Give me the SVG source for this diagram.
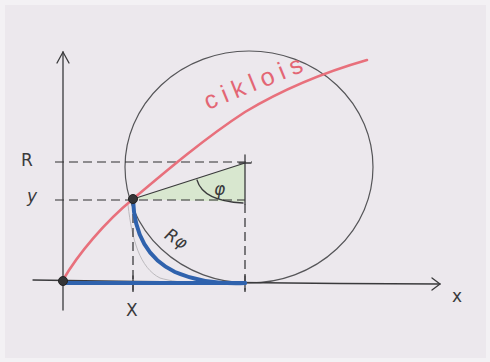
<svg xmlns="http://www.w3.org/2000/svg" width="490" height="362" viewBox="0 0 490 362">
<defs>
<style>
.pencil{fill:none;stroke:#3a3a3c;stroke-width:1.3;stroke-linecap:round}
.dash{fill:none;stroke:#2e2e30;stroke-width:1.2;stroke-dasharray:9 5}
.lbl{font-family:"DejaVu Sans","Liberation Sans",sans-serif;fill:#3a3a3c;font-size:17px}
.red{fill:none;stroke:#e8707c;stroke-width:2.6;stroke-linecap:round}
.blue{fill:none;stroke:#2f62ad;stroke-width:4;stroke-linecap:round}
.dot{fill:#353537;stroke:#222;stroke-width:1}
</style>
</defs>
<rect width="490" height="362" fill="#f3f1f4"/>
<rect x="5" y="5" width="481" height="353" fill="#ece8ed"/>

<g id="circle">
<ellipse cx="249" cy="167" rx="124" ry="116" fill="none" stroke="#555558" stroke-width="1.2"/>
<path d="M128,205 C132,240 140,268 160,278 C180,284 210,284 245,284" fill="none" stroke="#bcbabe" stroke-width="1"/>
</g>

<g id="angle">
<path d="M133,199 L245,163 L245,202 Z" fill="#d8e7cf"/>
<path d="M133,199 L245,163" class="pencil" stroke-width="1"/>
<path d="M197,180 Q203,201 243,203" class="pencil"/>
<text class="lbl" x="214" y="195" font-size="19" font-style="italic">φ</text>
</g>

<g id="guides">
<path d="M55,162 H252" class="dash"/>
<path d="M55,200 H245" class="dash"/>
<path d="M133,200 V292" class="dash"/>
<path d="M245,155 V204" class="pencil"/>
<path d="M245,204 V292" class="dash"/>
<path d="M239,163 H251" class="pencil"/>
</g>

<g id="axes">
<path d="M63,52 V310" class="pencil"/>
<path d="M57,63 L63,52 L69,63" class="pencil"/>
<path d="M33,280 Q240,283 440,284" class="pencil"/>
<path d="M432,278 L440,284 L432,290" class="pencil"/>
<path d="M133,276 V290" class="pencil"/>
<path d="M245,276 V290" class="pencil"/>
</g>

<g id="cycloid">
<path d="M63,280 C78,254 105,222 133,199 C165,172 205,138 245,112 C285,88 325,72 367,60" class="red"/>
<text x="208" y="110" transform="rotate(-22 208 110)" font-family="'Liberation Sans',sans-serif" font-size="25" fill="#e36674" letter-spacing="6">ciklois</text>
</g>

<g id="arc">
<path d="M64,283 H245" class="blue"/>
<path d="M133,199 C134,232 146,258 175,272 C198,282 220,284 245,283" class="blue"/>
<text class="lbl" x="164" y="244" font-size="19" transform="rotate(32 175 240)" font-style="italic">Rφ</text>
</g>

<g id="points">
<circle cx="63" cy="281" r="4.5" class="dot"/>
<circle cx="133" cy="199" r="4.5" class="dot"/>
</g>

<g id="labels">
<text class="lbl" x="21" y="166">R</text>
<text class="lbl" x="27" y="202" font-style="italic">y</text>
<text class="lbl" x="126" y="316">X</text>
<text class="lbl" x="452" y="302" font-size="13">x</text>
</g>
</svg>
